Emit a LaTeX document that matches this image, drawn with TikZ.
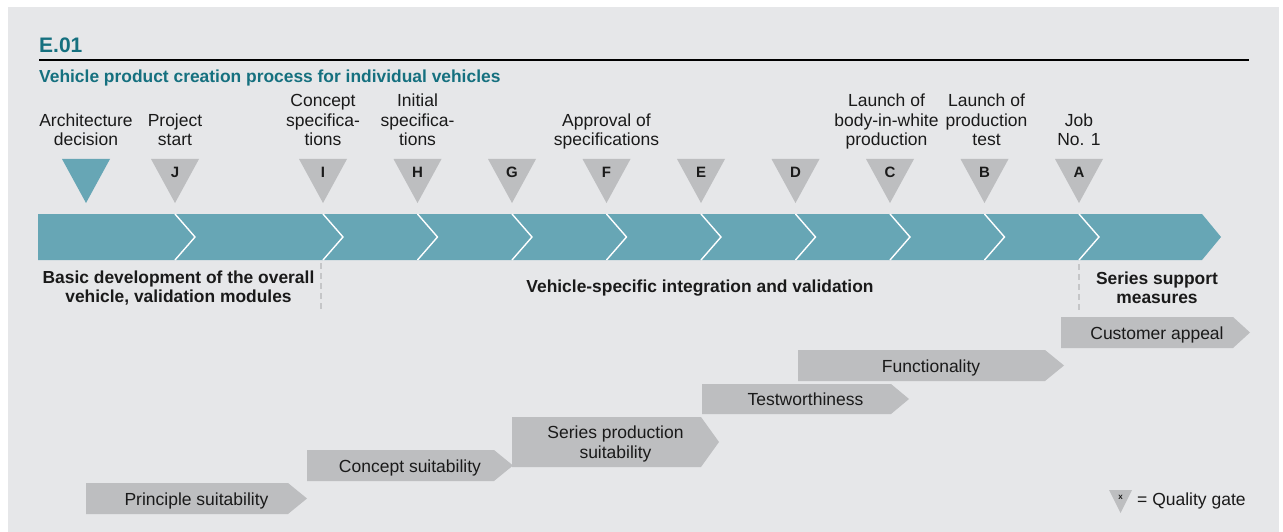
\documentclass[tikz,border=0pt]{standalone}
\usepackage{fontspec}
\setmainfont{Liberation Sans}
\definecolor{bgc}{HTML}{E6E7E9}
\definecolor{bandc}{HTML}{67A6B5}
\definecolor{gatec}{HTML}{BDBEC0}
\definecolor{titlec}{HTML}{15707F}
\definecolor{txtc}{HTML}{1A1A1A}
\definecolor{dashc}{HTML}{C5C6C8}
\newcommand\mlines[1]{\begin{tabular}[b]{@{}c@{}}#1\end{tabular}}
\begin{document}
\begin{tikzpicture}[x=1pt,y=-1pt,
  lbl/.style={font=\fontsize{17.5}{19.5}\selectfont, text=txtc, inner sep=0pt, anchor=base},
  blbl/.style={font=\fontsize{17.4}{19}\selectfont\bfseries, text=txtc, inner sep=0pt, anchor=base},
  gatelet/.style={font=\fontsize{15}{17}\selectfont\bfseries, text=txtc, inner sep=0pt, anchor=base},
  sepline/.style={draw=white, line width=1.4pt, line join=miter},
  phasedash/.style={draw=dashc, line width=1.8pt, dash pattern=on 6pt off 4pt},
  gbox/.style={fill=gatec}
]
\useasboundingbox (0,0) rectangle (1283,532);
\fill[white] (0,0) rectangle (1283,532);
\fill[bgc] (8,7) rectangle (1279,532);

% title
\node[font=\fontsize{21}{24}\selectfont\bfseries, text=titlec, inner sep=0pt, anchor=base west] (title) at (39,53) {E.01};
\draw[line width=2pt, black] (39,60) -- (1249,60);
\node[font=\fontsize{17.4}{19.5}\selectfont\bfseries, text=titlec, inner sep=0pt, anchor=base west] (subtitle) at (39,83) {Vehicle product creation process for individual vehicles};

% band
\fill[bandc] (38,214) -- (1202,214) -- (1221,237) -- (1202,260) -- (38,260) -- cycle;

% architecture decision
\fill[bandc] (62,159) -- (110,159) -- (86,203) -- cycle;
\node[lbl] (larch) at (86,146) {\mlines{Architecture\\decision}};

% gates
\foreach \x/\l in {175/J, 323/I, 417.5/H, 512/G, 606.5/F, 701/E, 795.5/D, 890/C, 984.5/B, 1079/A}{
  \fill[gatec] (\x-24,159) -- (\x+24,159) -- (\x,203) -- cycle;
  \node[gatelet] (gate\l) at (\x,177.5) {\l};
  \draw[sepline] (\x,214) -- (\x+20,237) -- (\x,260);
}

\node[lbl] (lJ) at (175,146) {\mlines{Project\\start}};
\node[lbl] (lI) at (323,146) {\mlines{Concept\\specifica-\\tions}};
\node[lbl] (lH) at (417.5,146) {\mlines{Initial\\specifica-\\tions}};
\node[lbl] (lF) at (606.5,146) {\mlines{Approval of\\specifications}};
\node[lbl] (lC) at (886.5,146) {\mlines{Launch of\\body-in-white\\production}};
\node[lbl] (lB) at (986.5,146) {\mlines{Launch of\\production\\test}};
\node[lbl] (lA) at (1079,146) {\mlines{Job\\No. 1}};

% phase separators
\coordinate (d1a) at (321,263); \coordinate (d1b) at (321,310);
\coordinate (d2a) at (1079,264); \coordinate (d2b) at (1079,310);
\draw[phasedash] (d1a) -- (d1b);
\draw[phasedash] (d2a) -- (d2b);

\node[blbl] (ph1) at (178.5,302) {\mlines{Basic development of the overall\\vehicle, validation modules}};
\node[blbl] (ph2) at (700,292) {Vehicle-specific integration and validation};
\node[blbl] (ph3) at (1157,303) {\mlines{Series support\\measures}};

% bottom arrows
\fill[gatec] (86,483) -- (288,483) -- (307,498.5) -- (288,514) -- (86,514) -- cycle;
\node[lbl] (a1) at (196.5,505) {Principle suitability};
\fill[gatec] (307,450) -- (494,450) -- (513,465.5) -- (494,481) -- (307,481) -- cycle;
\node[lbl] (a2) at (410,472) {Concept suitability};
\fill[gatec] (512,417) -- (701,417) -- (719,442) -- (701,467) -- (512,467) -- cycle;
\node[lbl] (a3) at (615.5,458) {\mlines{Series production\\suitability}};
\fill[gatec] (702,384) -- (891,384) -- (909,399) -- (891,414) -- (702,414) -- cycle;
\node[lbl] (a4) at (805.5,405.5) {Testworthiness};
\fill[gatec] (798,350) -- (1045,350) -- (1064,365.5) -- (1045,381) -- (798,381) -- cycle;
\node[lbl] (a5) at (931,372) {Functionality};
\fill[gatec] (1061,317) -- (1233,317) -- (1250,332.5) -- (1233,348) -- (1061,348) -- cycle;
\node[lbl] (a6) at (1157,339) {Customer appeal};

% legend
\fill[gatec] (1109,490) -- (1132,490) -- (1120.5,513) -- cycle;
\node[font=\fontsize{8}{9}\selectfont\bfseries, text=txtc, inner sep=0pt, anchor=base] (legx) at (1120.5,499) {x};
\node[lbl, anchor=base west] (legt) at (1137,505) {= Quality gate};
\end{tikzpicture}
\end{document}
